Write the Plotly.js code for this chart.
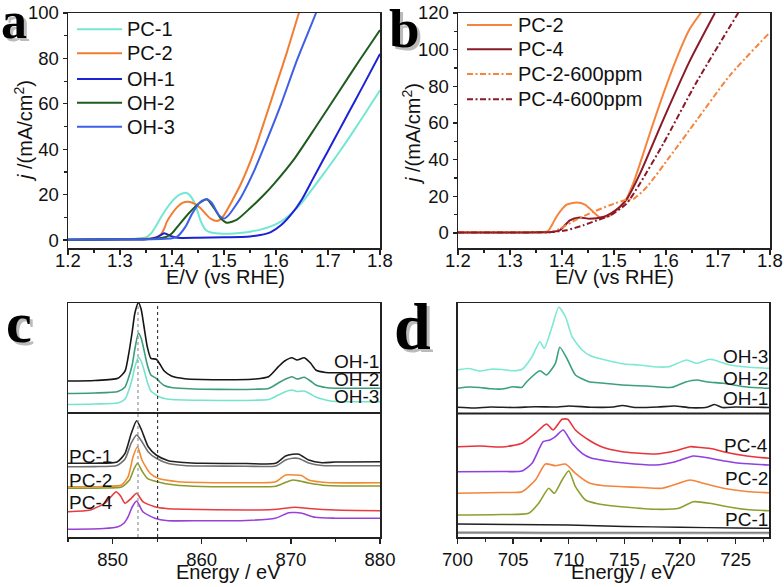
<!DOCTYPE html>
<html><head><meta charset="utf-8">
<script src="https://cdn.plot.ly/plotly-3.0.1.min.js"></script>
<style>html,body{margin:0;padding:0;background:#fff}#chart{width:784px;height:587px}</style>
</head><body><div id="chart"></div>
<script>
// ---------- Panel a : LSV curves ----------
const aPC1_E = [1.20,1.25,1.30,1.33,1.35,1.36,1.37,1.38,1.39,1.40,1.41,1.42,1.427,1.435,1.445,1.455,1.465,1.475,1.49,1.51,1.53,1.55,1.57,1.59,1.61,1.63,1.65,1.67,1.69,1.71,1.73,1.75,1.77,1.80];
const aPC1_j = [0.2,0.3,0.4,0.6,1.2,3,6.5,10.5,14,17,19.3,20.5,20.8,19.5,15.5,8.5,4.4,3.3,2.9,2.8,3.1,3.7,4.6,6,8.2,11.8,16.5,22.5,28.7,35,41.5,48.3,55.3,66];
const aPC2_E = [1.20,1.30,1.33,1.36,1.375,1.385,1.39,1.40,1.41,1.42,1.432,1.445,1.455,1.465,1.475,1.487,1.495,1.50,1.515,1.533,1.559,1.58,1.60,1.62,1.644,1.66];
const aPC2_j = [0.1,0.3,0.5,0.8,1.5,5,8,11.7,14.5,16.4,16.9,15.8,14,11.5,9.3,8.4,9.5,11,17,25,39.6,54,68,82,100,112];
const aOH1_E = [1.20,1.30,1.35,1.37,1.38,1.385,1.39,1.40,1.41,1.45,1.50,1.55,1.57,1.59,1.61,1.63,1.65,1.67,1.69,1.71,1.73,1.75,1.77,1.80];
const aOH1_j = [0.1,0.2,0.4,1.2,2.4,3,2.6,1.6,1.0,1.0,1.2,1.6,2.2,3.5,6.6,11.5,18,26.5,35,43.5,52,60.5,69,82];
const aOH2_E = [1.20,1.30,1.37,1.39,1.40,1.413,1.432,1.452,1.467,1.481,1.494,1.506,1.525,1.55,1.575,1.597,1.636,1.677,1.72,1.76,1.80];
const aOH2_j = [0.1,0.3,0.6,1.5,3,6.6,11.7,16.2,18,14,9.5,7.6,9,14,19.5,25,36,50,65,79,92.5];
const aOH3_E = [1.20,1.30,1.38,1.40,1.41,1.426,1.439,1.455,1.467,1.477,1.49,1.50,1.509,1.533,1.559,1.578,1.61,1.64,1.677,1.69];
const aOH3_j = [0.1,0.3,0.5,0.8,1.5,5.9,11.7,16.9,18,16.2,11,9.5,11,19,31,41.5,60,79,100,108];

// ---------- Panel b ----------
const bPC2_E = [1.20,1.30,1.36,1.373,1.38,1.389,1.40,1.409,1.428,1.444,1.46,1.473,1.492,1.511,1.524,1.537,1.55,1.572,1.595,1.62,1.645,1.672];
const bPC2_j = [0.2,0.3,0.5,1.0,4,8.7,13,15.5,16.6,15.5,11.5,8.4,9.5,14.2,18.7,27,37.8,57,76,95,111,122];
const bPC4_E = [1.20,1.30,1.38,1.396,1.415,1.434,1.453,1.479,1.495,1.511,1.524,1.55,1.595,1.646,1.694];
const bPC4_j = [0.2,0.3,0.5,1.5,6.9,8.4,7.8,8.7,10.9,14.2,18.2,32.4,62,94,120];
const bPC2p_E = [1.20,1.30,1.38,1.396,1.428,1.46,1.492,1.524,1.537,1.563,1.607,1.659,1.723,1.80];
const bPC2p_j = [0.2,0.3,0.6,2.4,7.3,11.5,15.1,18.2,18.5,25.1,41.5,61.5,86,109.5];
const bPC4p_E = [1.20,1.30,1.38,1.409,1.441,1.467,1.492,1.524,1.55,1.595,1.659,1.741,1.75];
const bPC4p_j = [0.2,0.3,0.5,1.5,4.2,6.9,9.5,16,27,48.8,82.4,121,125];

// ---------- Panel c : Ni L-edge (stacked, arbitrary units) ----------
const cOH_E = [845,848,850.6,851.4,851.75,852.2,852.5,852.9,853.2,853.5,853.9,854.3,854.9,855.3,855.8,856.6,858.1,860,863.8,866,867.5,868.6,869.3,870.1,870.7,871.5,872.2,872.8,873.9,875,878,880];
const cOH1_I = [156,156.5,158.7,166,180,205,223.7,234.3,228,212,190,178.7,177.7,173,166,161,158.3,157.5,157.3,158,160.3,170.3,176,179.3,177,179.3,174,167,164.5,164.3,164.3,164.3];
const cOH2_I = [143.5,144,145.5,150,158,172,188,203.7,199,188,172,162,158.7,155,151.5,149.5,148.5,147.8,147.5,147.8,148.5,154,157.5,160.3,158,159.7,156,152,149.5,148.8,148.7,148.7];
const cOH3_I = [132.5,133,134,138,145,158,170,179.7,176,168,155,146,142,140,138.5,137.5,137,136.7,136.5,136.8,137.5,142,145,147,145.5,146,143,140,137,135.5,135.3,135.3];
const cPC1_E = [845,848,850.5,851.4,852.1,852.7,853.25,854,854.9,856.25,858,860,865,868.3,869.4,870.2,870.9,872,873.5,875,880];
const cPC1a_I = [73.7,73.8,75,83.7,103.7,116.3,107,90.3,82,76.3,74.5,73.7,73.5,73.7,81,82.7,82.7,77,74.3,75,75.3];
const cPC1b_I = [70.3,70.4,71.5,78,94,102,96,85,78.7,73.5,71.5,71,70.8,71,77,78.7,78.5,74,71.5,71.3,71.3];
const cPC2_E = [845,849,851,851.75,852.3,852.8,853.3,854.2,855.1,857.4,860,863.75,868.3,869.4,870.5,871.2,872,874,880];
const cPC2a_I = [50.3,50.5,52,60.3,80.3,90.3,77,63.7,58.7,55.3,54.5,54.3,55.3,62,62,61.5,57,54.5,54.3];
const cPC2b_E = [845,849,851,851.9,852.4,852.8,853.3,853.9,855,857,860,865,868.3,869.5,870.2,871,872,874,880];
const cPC2b_I = [48.7,49,50,57,68,73.7,66,58.7,55.3,52,50.5,50.3,50.8,55,57,56,54,51.5,51];
const cPC4a_E = [845,847.5,849.1,849.8,850.4,850.9,851.4,852.1,852.7,853.4,854.75,856,858.1,865,868,870.5,872,875,880];
const cPC4a_I = [25.3,27,33.7,40,45.3,41,33.7,38.7,43.7,35.3,30.3,28.5,27.7,27,27.5,29.7,28.5,27,26.3];
const cPC4b_E = [845,849,850.6,851.3,851.75,852.2,852.7,853.4,854.75,856.25,860,865,868.25,869.75,870.5,871.25,872.75,875,880];
const cPC4b_I = [7.7,8.5,10.3,14,20.3,30,36,25.3,18.7,16.3,16.3,16.5,18.7,24.3,24.5,23.7,19.7,18.8,18.7];
const cRefE = [852.85, 855.05];

// ---------- Panel d : Fe L-edge (stacked, arbitrary units) ----------
const dOH3_E = [700,701,702,703,704,705,705.8,706.7,707.4,707.8,708.5,709.1,709.7,710.3,711.2,712,713.3,715,716.3,718,719,720.6,721.5,722.7,724.5,726,728];
const dOH3_I = [167,168.5,166,167.8,167.5,166.2,167.7,180.3,195.3,188.7,210.3,229.7,220.3,200.3,187,181,177,173,172,170,170.3,177,173.7,177.7,172,170,168.7];
const dOH2_E = [700,701,702,703,704,705,705.8,706.2,707.4,708,708.8,709.2,709.9,710.6,711.8,713,714.8,717,719.3,720.5,721.5,722.5,723.9,726,728];
const dOH2_I = [148.7,150,149.5,148.2,148,150.2,149.7,155,166.3,162,173.7,189.7,177,162,155.3,154,152,151,149.7,155,157,155,153.7,150,148.7];
const dOH1_E = [700,701.5,703,705,707,709,710,712,714,714.8,716,718,719.5,721,722.5,723.1,723.8,725,727,728];
const dOH1_I = [129.7,129,130,129.5,130.3,130,131,129.8,130,131.5,129.5,130,131,129.2,130,132.5,129.5,130,129.7,129.5];
const dPC4a_E = [700,702,704,705.8,707,708,708.6,709.4,709.9,710.6,711.8,713,714.8,716,717.8,719.5,720.9,721.8,723,723.9,726,728];
const dPC4a_I = [90.3,91,90,93.7,103.7,113,107,117.7,117.7,107,97,90,85.3,84,83,86,90.3,89.5,88,85.3,81,78.7];
const dPC4b_E = [700,704,705.8,706.7,707.7,708.3,708.8,709.5,710.3,711.2,712,713.3,715,717.8,719.6,721.2,722.7,724,725.4,728];
const dPC4b_I = [65.3,65.5,66,73.7,95.3,97,100.3,107,93.7,83.7,79,76.3,74,72,75.3,81,78.7,76,73.7,72];
const dPC2a_E = [700,704,705.8,707,707.9,708.8,709.7,710.6,711.8,713,714.8,716.5,718.4,719.9,720.9,722.1,723.9,726,728];
const dPC2a_I = [43.7,44.5,45.3,57,73,71.3,73,63.7,54.3,51.5,50.3,49.5,48.7,53.7,57,53.7,48.7,45.5,44.3];
const dPC2b_E = [700,704,706.4,707.3,708.2,708.7,709.4,710,710.6,711.5,712.5,713.3,715,717.8,719.9,721.2,722.7,723.9,726,728];
const dPC2b_I = [22,22.5,23.7,33.7,48.7,43.7,57,66.3,50.3,37,33.5,32,30,27.7,28.7,35.3,33.7,31,27.5,26.3];
const dPC1_E = [700,705,710,715,720,725,728];
const dPC1a_I = [13,12.5,12,10.5,9.8,9,8.7];
const dPC1b_I = [4.8,4.7,4.6,4.6,4.5,4.5,4.5];
const dPC1c_I = [3.6,3.6,3.5,3.5,3.5,3.4,3.4];

// ---------- labels ----------
const aNames = ['PC-1','PC-2','OH-1','OH-2','OH-3'];
const bNames = ['PC-2','PC-4','PC-2-600ppm','PC-4-600ppm'];
const cLabelsTop = ['OH-1','OH-2','OH-3'];
const cLabelsTopI = [175.3,158,141];
const cLabelsBot = ['PC-1','PC-2','PC-4'];
const cLabelsBotI = [80.3,57,35];
const dLabels = ['OH-3','OH-2','OH-1','PC-4','PC-2','PC-1'];
const dLabelsI = [181,159,139,92,59,18];
const panelLetters = ['a','b','c','d'];
const lsvTickVals = [1.2,1.3,1.4,1.5,1.6,1.7,1.8];
const lsvTickText = ['1.2','1.3','1.4','1.5','1.6','1.7','1.8'];
const xTitleLSV = 'E/V (vs RHE)';
const xTitleXAS = 'Energy / eV';
const yTitleLSV = '<i>j</i> /(mA/cm<sup>2</sup>)';

// ---------- layout helpers ----------
const W=784,H=587;
const dx=(l,r)=>[l/W,r/W];
const dy=(t,b)=>[1-b/H,1-t/H];
const FONT='Liberation Sans, Arial, sans-serif';
const DASHDOT='6px,2.5px,2px,2.5px';

const aColors=['#74e7d3','#f27d32','#1c22d6','#1e5c1e','#3d5fe6'];
const bColors=['#f5843c','#8a1a28','#f5843c','#8a1a28'];
const bDash=['solid','solid',DASHDOT,DASHDOT];

function line(x,y,color,name,xa,ya,opt){
  opt=opt||{};
  return {type:'scatter',mode:'lines',x:x,y:y,name:name,xaxis:xa,yaxis:ya,
    line:{color:color,width:opt.w||2,dash:opt.dash||'solid',shape:'spline',smoothing:0.6},
    showlegend:false,hoverinfo:'skip'};
}

const traces=[
  line(aPC1_E,aPC1_j,aColors[0],aNames[0],'x','y'),
  line(aPC2_E,aPC2_j,aColors[1],aNames[1],'x','y'),
  line(aOH1_E,aOH1_j,aColors[2],aNames[2],'x','y'),
  line(aOH2_E,aOH2_j,aColors[3],aNames[3],'x','y'),
  line(aOH3_E,aOH3_j,aColors[4],aNames[4],'x','y'),
  line(bPC2_E,bPC2_j,bColors[0],bNames[0],'x2','y2'),
  line(bPC4_E,bPC4_j,bColors[1],bNames[1],'x2','y2'),
  line(bPC2p_E,bPC2p_j,bColors[2],bNames[2],'x2','y2',{dash:bDash[2]}),
  line(bPC4p_E,bPC4p_j,bColors[3],bNames[3],'x2','y2',{dash:bDash[3]}),
  line(cOH_E,cOH1_I,'#151515','OH-1','x3','y3',{w:1.6}),
  line(cOH_E,cOH2_I,'#3c9c7c','OH-2','x3','y3',{w:1.6}),
  line(cOH_E,cOH3_I,'#74e4cd','OH-3','x3','y3',{w:1.6}),
  line(cPC1_E,cPC1a_I,'#202020','PC-1','x3','y3',{w:1.6}),
  line(cPC1_E,cPC1b_I,'#707070','PC-1b','x3','y3',{w:1.6}),
  line(cPC2_E,cPC2a_I,'#f28a32','PC-2','x3','y3',{w:1.6}),
  line(cPC2b_E,cPC2b_I,'#8c9a2c','PC-2b','x3','y3',{w:1.6}),
  line(cPC4a_E,cPC4a_I,'#e83c40','PC-4','x3','y3',{w:1.6}),
  line(cPC4b_E,cPC4b_I,'#9a40d6','PC-4b','x3','y3',{w:1.6}),
  line(dOH3_E,dOH3_I,'#7ce9d4','OH-3','x4','y4',{w:1.6}),
  line(dOH2_E,dOH2_I,'#3aa080','OH-2','x4','y4',{w:1.6}),
  line(dOH1_E,dOH1_I,'#202020','OH-1','x4','y4',{w:1.6}),
  line(dPC4a_E,dPC4a_I,'#e8343c','PC-4','x4','y4',{w:1.6}),
  line(dPC4b_E,dPC4b_I,'#9040e0','PC-4b','x4','y4',{w:1.6}),
  line(dPC2a_E,dPC2a_I,'#f5843c','PC-2','x4','y4',{w:1.6}),
  line(dPC2b_E,dPC2b_I,'#8aa030','PC-2b','x4','y4',{w:1.6}),
  line(dPC1_E,dPC1a_I,'#202020','PC-1','x4','y4',{w:1.4}),
  line(dPC1_E,dPC1b_I,'#808080','PC-1b','x4','y4',{w:1.4}),
  line(dPC1_E,dPC1c_I,'#a0a0a0','PC-1c','x4','y4',{w:1.4}),
];

const tickF={family:FONT,size:18.5,color:'#111'};
const titleF={family:FONT,size:20,color:'#111'};
function xax(dom,range,dtick,tick0,minor,anchor,showLabels){
  return {domain:dom,range:range,anchor:anchor,dtick:dtick,tick0:tick0,ticks:'outside',ticklen:5,tickwidth:1.3,tickcolor:'#222',
    minor:{dtick:minor,ticks:'outside',ticklen:3,tickwidth:1.2,tickcolor:'#222'},showticklabels:showLabels,
    showline:true,mirror:true,linewidth:1.5,linecolor:'#222',showgrid:false,zeroline:false,
    tickfont:tickF,automargin:false};
}
function yax(dom,range,anchor,opts){
  const base={domain:dom,range:range,anchor:anchor,showline:true,mirror:true,linewidth:1.5,linecolor:'#222',
    showgrid:false,zeroline:false,automargin:false,tickfont:tickF};
  return Object.assign(base,opts);
}
const yLSV={dtick:20,tick0:0,ticks:'outside',ticklen:4,tickwidth:1.3,tickcolor:'#222',
    minor:{dtick:10,ticks:'outside',ticklen:3,tickwidth:1.2,tickcolor:'#222'}};
const layout={
  width:W,height:H,margin:{l:0,r:0,t:0,b:0},paper_bgcolor:'#fff',plot_bgcolor:'#fff',
  font:{family:FONT,color:'#111'},showlegend:false,
  xaxis:xax(dx(68,380),[1.2,1.8],0.1,1.2,0.05,'y',false),
  yaxis:yax(dy(13,248),[-3.5,100],'x',yLSV),
  xaxis2:xax(dx(458,770),[1.2,1.8],0.1,1.2,0.05,'y2',false),
  yaxis2:yax(dy(13,248),[-8.2,120],'x2',yLSV),
  xaxis3:xax(dx(68,380),[845,880],10,850,5,'y3',true),
  yaxis3:yax(dy(303,537),[0,234],'x3',{showticklabels:false,ticks:''}),
  xaxis4:xax(dx(457.5,769),[700,728],5,700,2.5,'y4',true),
  yaxis4:yax(dy(303,537),[0,234],'x4',{showticklabels:false,ticks:''}),
  shapes:[],annotations:[]
};
const ann=(t,x,y,o)=>Object.assign({text:t,xref:'paper',yref:'paper',x:x/W,y:1-y/H,xanchor:'center',yanchor:'middle',
  showarrow:false,borderpad:0,font:titleF},o||{});
// LSV x tick labels, placed on the data scale of each axis
['x','x2'].forEach(xr=>lsvTickVals.forEach((v,i)=>layout.annotations.push({text:lsvTickText[i],xref:xr,x:v,
  yref:'paper',y:1-260/H,xanchor:'center',yanchor:'middle',showarrow:false,borderpad:0,font:tickF})));
// axis titles
layout.annotations.push(ann(xTitleLSV,225,277));
layout.annotations.push(ann(xTitleLSV,614,277));
layout.annotations.push(ann(xTitleXAS,228,572));
layout.annotations.push(ann(xTitleXAS,623,572));
layout.annotations.push(ann(yTitleLSV,23,131,{textangle:-90}));
layout.annotations.push(ann(yTitleLSV,412,134,{textangle:-90}));

// manual legends (line samples + names), drawn in paper space
const LEGF={family:FONT,size:20,color:'#111'};
function legend(names,colors,dashes,x0,x1,tx,rows){
  names.forEach((n,i)=>{
    const yy=1-rows[i]/H;
    layout.shapes.push({type:'line',xref:'paper',yref:'paper',x0:x0/W,x1:x1/W,y0:yy,y1:yy,
      line:{color:colors[i],width:2,dash:dashes?dashes[i]:'solid'}});
    layout.annotations.push({text:n,xref:'paper',yref:'paper',x:tx/W,y:yy,xanchor:'left',yanchor:'middle',
      showarrow:false,font:LEGF,borderpad:0});
  });
}
legend(aNames,aColors,null,77,122,126,[29.3,53.3,79,102.7,126.7]);
legend(bNames,bColors,bDash,467,512,517,[25,49.3,74,99.3]);

// divider lines and reference dotted lines
layout.shapes.push({type:'line',xref:'x3 domain',x0:0,x1:1,yref:'y3',y0:124,y1:124,line:{color:'#222',width:2}});
layout.shapes.push({type:'line',xref:'x4 domain',x0:0,x1:1,yref:'y4',y0:123.5,y1:123.5,line:{color:'#222',width:2}});
cRefE.forEach((e,i)=>layout.shapes.push({type:'line',xref:'x3',x0:e,x1:e,yref:'y3 domain',y0:0,y1:1,
  line:{color:i===0?'#8a8a8a':'#333',width:1.1,dash:'dot'}}));
// spectrum labels
const lab=(t,xr,x,xa,yr,y)=>({text:t,xref:xr,x:x,xanchor:xa,yref:yr,y:y,yanchor:'middle',showarrow:false,
  font:{family:FONT,size:19,color:'#111'},borderpad:0});
cLabelsTop.forEach((t,i)=>layout.annotations.push(lab(t,'x3 domain',1,'right','y3',cLabelsTopI[i])));
cLabelsBot.forEach((t,i)=>layout.annotations.push(lab(t,'x3 domain',0,'left','y3',cLabelsBotI[i])));
dLabels.forEach((t,i)=>layout.annotations.push(lab(t,'x4 domain',1,'right','y4',dLabelsI[i])));
// panel letters with soft shadow
const letterPos=[[0,20],[388,28],[5,322],[393,326]];
const letterSize=[52,55,58,66];
panelLetters.forEach((t,i)=>{
  const [px,py]=letterPos[i];
  const f=(c)=>({family:'Liberation Serif, Times New Roman, serif',size:letterSize[i],color:c,weight:'bold'});
  layout.annotations.push({text:'<b>'+t+'</b>',xref:'paper',yref:'paper',x:(px+3)/W,y:1-(py+3)/H,xanchor:'left',yanchor:'middle',showarrow:false,borderpad:0,font:f('rgba(120,120,120,0.5)')});
  layout.annotations.push({text:'<b>'+t+'</b>',xref:'paper',yref:'paper',x:px/W,y:1-py/H,xanchor:'left',yanchor:'middle',showarrow:false,borderpad:0,font:f('#000')});
});
Plotly.newPlot('chart',traces,layout,{staticPlot:true,displayModeBar:false});
</script>
</body></html>
